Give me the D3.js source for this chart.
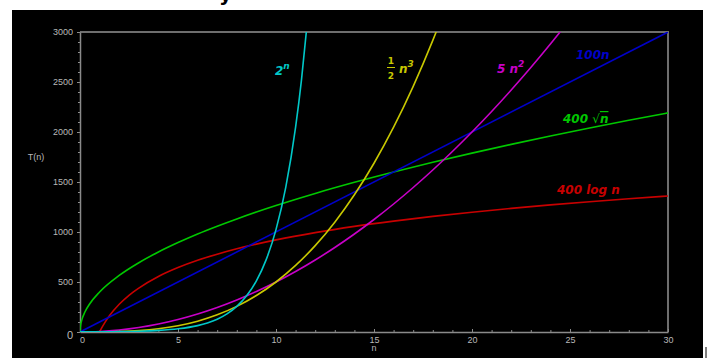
<!DOCTYPE html>
<html>
<head>
<meta charset="utf-8">
<script src="https://cdn.jsdelivr.net/npm/d3@7"></script>
<style>
  html, body { margin: 0; padding: 0; background: #fff; }
  #chart { width: 711px; height: 358px; overflow: hidden; }
</style>
</head>
<body>
<div id="chart"></div>
<script>
// tick labels
const xTicks = [0, 5, 10, 15, 20, 25, 30];
const yTicks = [0, 500, 1000, 1500, 2000, 2500, 3000];

// curve samples, [n, T(n)]
const expo = [[0, 1], [1, 2], [2, 4], [3, 8], [4, 16], [5, 32], [6, 64], [6.5, 91], [7, 128],
  [7.5, 181], [8, 256], [8.5, 362], [9, 512], [9.5, 724], [10, 1024], [10.5, 1448],
  [11, 2048], [11.3, 2521], [11.6, 3104]];
const cube = [[0, 0], [1, 0.5], [2, 4], [3, 13.5], [4, 32], [5, 62.5], [6, 108], [7, 171.5],
  [8, 256], [9, 364.5], [10, 500], [11, 665.5], [12, 864], [13, 1098.5], [14, 1372],
  [15, 1687.5], [16, 2048], [17, 2456.5], [18, 2916], [18.5, 3166]];
const square = [[0, 0], [1, 5], [2, 20], [3, 45], [4, 80], [5, 125], [6, 180], [7, 245],
  [8, 320], [9, 405], [10, 500], [11, 605], [12, 720], [13, 845], [14, 980], [15, 1125],
  [16, 1280], [17, 1445], [18, 1620], [19, 1805], [20, 2000], [21, 2205], [22, 2420],
  [23, 2645], [24, 2880], [25, 3125]];
const linear = [[0, 0], [30, 3000]];
const sqrtCurve = [[0, 0], [0.01, 40], [0.02, 57], [0.05, 89], [0.1, 126], [0.25, 200],
  [0.5, 283], [1, 400], [2, 566], [3, 693], [4, 800], [5, 894], [6, 980], [7, 1058],
  [8, 1131], [9, 1200], [10, 1265], [12, 1386], [14, 1497], [16, 1600], [18, 1697],
  [20, 1789], [22, 1876], [24, 1960], [26, 2040], [28, 2117], [30, 2191]];
const logCurve = [[1, 0], [1.1, 38], [1.25, 89], [1.5, 162], [2, 277], [2.5, 367], [3, 439],
  [4, 555], [5, 644], [6, 717], [7, 778], [8, 832], [9, 879], [10, 921], [12, 994],
  [14, 1056], [16, 1109], [18, 1156], [20, 1198], [22, 1236], [24, 1271], [26, 1303],
  [28, 1333], [30, 1360]];

const series = [
  { name: "log", values: logCurve, color: "#c80000" },
  { name: "sqrt", values: sqrtCurve, color: "#00c800" },
  { name: "lin", values: linear, color: "#0000c8" },
  { name: "sq", values: square, color: "#c800c8" },
  { name: "cube", values: cube, color: "#c8c800" },
  { name: "exp", values: expo, color: "#00c8c8" },
];

const width = 711, height = 358;
const margin = { top: 32, right: 43, bottom: 26, left: 80 };
const innerWidth = width - margin.left - margin.right;
const innerHeight = height - margin.top - margin.bottom;

const svg = d3.select("#chart").append("svg")
  .attr("width", width).attr("height", height)
  .style("font-family", "'DejaVu Sans', Verdana, sans-serif");

// black panel
svg.append("rect").attr("x", 12).attr("y", 10).attr("width", 691).attr("height", 348).attr("fill", "#000");

// cut-off title descender
svg.append("text").attr("x", 219).attr("y", 1).attr("font-size", 20).attr("font-weight", "bold")
  .attr("fill", "#000").text("y");

// stray mark at the right edge
svg.append("line").attr("x1", 706).attr("x2", 706).attr("y1", 347).attr("y2", 358)
  .attr("stroke", "#000").attr("stroke-width", 1);

const g = svg.append("g").attr("transform", `translate(${margin.left},${margin.top})`);

const x = d3.scaleLinear().domain([0, 30]).range([0, innerWidth]);
const y = d3.scaleLinear().domain([0, 3000]).range([innerHeight, 0]);

const axisGray = "#8a8a8a";
const labelGray = "#b8b8b8";
const tickFont = "Arial, 'Liberation Sans', sans-serif";

// frame top + right
g.append("path")
  .attr("d", `M0,0H${innerWidth}V${innerHeight}`)
  .attr("fill", "none").attr("stroke", "#6e6e6e").attr("stroke-width", 2);

// minor ticks (no labels)
g.append("g")
  .attr("transform", `translate(0,${innerHeight})`)
  .call(d3.axisBottom(x).tickValues(d3.range(0, 31, 1)).tickSize(-2).tickFormat(""))
  .call((a) => a.select(".domain").remove())
  .call((a) => a.selectAll("text").remove())
  .selectAll("line").attr("stroke", axisGray);

g.append("g")
  .call(d3.axisLeft(y).tickValues(d3.range(0, 3001, 100)).tickSize(2).tickFormat(""))
  .call((a) => a.select(".domain").remove())
  .call((a) => a.selectAll("text").remove())
  .selectAll("line").attr("stroke", axisGray);

// x axis
const xAxis = g.append("g")
  .attr("transform", `translate(0,${innerHeight})`)
  .call(d3.axisBottom(x).tickValues(xTicks).tickSize(-3).tickPadding(5).tickSizeOuter(0)
    .tickFormat(d3.format("d")));
xAxis.select(".domain").attr("stroke", axisGray).attr("stroke-width", 1.5);
xAxis.selectAll("line").attr("stroke", axisGray);
xAxis.selectAll("text").attr("fill", labelGray).attr("font-size", 9)
  .attr("font-family", tickFont)
  .attr("dx", (d) => (d === 0 ? 2 : 0));

// y axis
const yAxis = g.append("g")
  .call(d3.axisLeft(y).tickValues(yTicks).tickSize(3).tickPadding(4).tickSizeOuter(0)
    .tickFormat(d3.format("d")));
yAxis.select(".domain").attr("stroke", axisGray).attr("stroke-width", 1.5);
yAxis.selectAll("line").attr("stroke", axisGray);
yAxis.selectAll("text").attr("fill", labelGray)
  .attr("font-family", tickFont)
  .attr("dy", (d) => (d === 0 ? "0.55em" : "0.32em"))
  .attr("font-size", (d) => (d === 0 ? 11 : 9));

// axis titles
svg.append("text").attr("x", margin.left + innerWidth / 2).attr("y", 351)
  .attr("text-anchor", "middle").attr("font-size", 9).attr("fill", labelGray)
  .attr("font-family", tickFont).text("n");
svg.append("text").attr("x", 36).attr("y", 160)
  .attr("text-anchor", "middle").attr("font-size", 9).attr("fill", labelGray)
  .attr("font-family", tickFont).text("T(n)");

// curves, clipped to the plot box
svg.append("clipPath").attr("id", "plotClip")
  .append("rect").attr("x", 0).attr("y", 0).attr("width", innerWidth).attr("height", innerHeight);

const line = d3.line()
  .x((d) => x(d[0]))
  .y((d) => y(d[1]))
  .curve(d3.curveMonotoneX);

g.append("g").attr("clip-path", "url(#plotClip)")
  .selectAll("path.series")
  .data(series)
  .join("path")
  .attr("class", "series")
  .attr("fill", "none")
  .attr("stroke", (d) => d.color)
  .attr("stroke-width", 1.6)
  .attr("d", (d) => line(d.values));

// curve labels
const lab = svg.append("g").attr("font-style", "italic").attr("font-size", 12).attr("font-weight", "bold");

const t1 = lab.append("text").attr("x", 275).attr("y", 75).attr("fill", "#00c8c8");
t1.append("tspan").text("2");
t1.append("tspan").attr("dy", -6).attr("font-size", 9).text("n");

// 1/2 n^3
const half = lab.append("g").attr("fill", "#c8c800").attr("font-size", 9)
  .attr("text-anchor", "middle").attr("font-style", "normal");
half.append("text").attr("x", 391).attr("y", 64).text("1");
half.append("text").attr("x", 391).attr("y", 79).text("2");
half.append("line").attr("x1", 387).attr("x2", 395).attr("y1", 67.5).attr("y2", 67.5)
  .attr("stroke", "#c8c800").attr("stroke-width", 1);
const t2 = lab.append("text").attr("x", 399).attr("y", 73).attr("fill", "#c8c800");
t2.append("tspan").text("n");
t2.append("tspan").attr("dy", -6).attr("font-size", 9).text("3");

const t3 = lab.append("text").attr("x", 497).attr("y", 73).attr("fill", "#c800c8");
t3.append("tspan").text("5 n");
t3.append("tspan").attr("dy", -6).attr("font-size", 9).text("2");

lab.append("text").attr("x", 576).attr("y", 59).attr("fill", "#0000c8").text("100n");

const t5 = lab.append("text").attr("x", 563).attr("y", 123).attr("fill", "#00c800");
t5.append("tspan").text("400 ");
t5.append("tspan").attr("font-style", "normal").attr("font-weight", "normal").text("\u221A");
t5.append("tspan").attr("text-decoration", "overline").text("n");

lab.append("text").attr("x", 557).attr("y", 194).attr("fill", "#c80000").text("400 log n");
</script>
</body>
</html>
